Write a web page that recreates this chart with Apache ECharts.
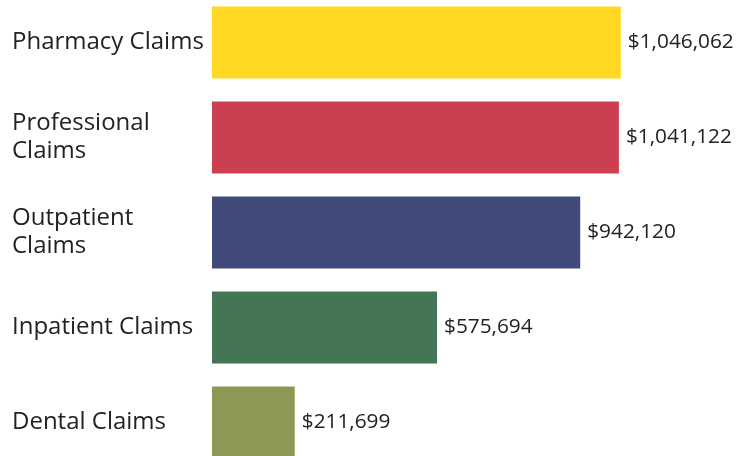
<!DOCTYPE html>
<html>
<head>
<meta charset="utf-8">
<script src="https://cdn.jsdelivr.net/npm/echarts@6/dist/echarts.min.js"></script>
<style>
  html, body { margin: 0; padding: 0; background: #ffffff; overflow: hidden; width: 746px; height: 456px; }
  #chart { width: 746px; height: 475px; margin-top: -5px; }
</style>
</head>
<body>
<div id="chart"></div>
<script>
const categories = ['Pharmacy Claims', 'Professional\nClaims', 'Outpatient\nClaims', 'Inpatient Claims', 'Dental Claims'];
const values = [1046062, 1041122, 942120, 575694, 211699];
const palette = ['#FFD823', '#CC3F50', '#424A7B', '#447555', '#8C9855'];

const chart = echarts.init(document.getElementById('chart'), null, { renderer: 'canvas' });
chart.setOption({
  animation: false,
  backgroundColor: '#ffffff',
  grid: { left: 212, right: 65, top: 0, bottom: 0, containLabel: false },
  xAxis: {
    type: 'value', min: 0, max: 1200000,
    show: false,
    splitLine: { show: false }
  },
  yAxis: {
    type: 'category',
    data: categories,
    inverse: true,
    axisLine: { show: false },
    axisTick: { show: false },
    splitLine: { show: false },
    axisLabel: {
      align: 'left',
      margin: 200,
      color: '#222222',
      fontFamily: 'Open Sans',
      fontSize: 24,
      lineHeight: 28,
      padding: [2, 0, 0, 0]
    }
  },
  series: [{
    type: 'bar',
    data: values,
    barWidth: 72,
    itemStyle: { color: p => palette[p.dataIndex] },
    label: {
      show: true,
      position: 'right',
      distance: 7,
      color: '#222222',
      fontFamily: 'Open Sans',
      fontSize: 20.8,
      formatter: p => '$' + p.value.toLocaleString('en-US')
    }
  }]
});
</script>
</body>
</html>
